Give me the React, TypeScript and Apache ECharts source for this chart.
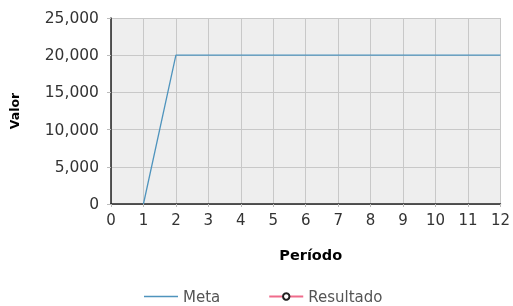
import React, { useEffect, useRef } from "react";
import * as echarts from "echarts";

const periods = [1, 2, 3, 4, 5, 6, 7, 8, 9, 10, 11, 12];
const metaValues = [0, 20000, 20000, 20000, 20000, 20000, 20000, 20000, 20000, 20000, 20000, 20000];
const resultadoValues: number[] = [];
const seriesNames = ["Meta", "Resultado"];

export default function App() {
  const ref = useRef<HTMLDivElement>(null);
  useEffect(() => {
    if (!ref.current) return;
    const chart = echarts.init(ref.current, undefined, { renderer: "svg" });
    const font = "DejaVu Sans";
    chart.setOption({
      animation: false,
      textStyle: { fontFamily: font },
      grid: {
        left: 111,
        right: 11,
        top: 18,
        bottom: 102,
        show: true,
        backgroundColor: "#eeeeee",
        borderWidth: 0,
      },
      legend: {
        top: 284,
        left: 139,
        itemGap: 48,
        itemWidth: 34,
        itemHeight: 8,
        textStyle: { fontFamily: font, fontSize: 15, color: "#555" },
        data: [
          {
            name: seriesNames[0],
            icon: "path://M0,0 L34,0 L34,1.3 L0,1.3 Z",
            itemStyle: { color: "#4f94bd" },
          },
          { name: seriesNames[1] },
        ],
      },
      xAxis: {
        type: "value",
        min: 0,
        max: 12,
        interval: 1,
        name: "Período",
        nameLocation: "middle",
        nameGap: 43,
        nameTextStyle: {
          fontFamily: font,
          fontSize: 14.5,
          fontWeight: "bold",
          color: "#000",
          padding: [0, 0, 0, 10],
        },
        axisLine: { show: true, onZero: false, lineStyle: { color: "#222", width: 1.5 } },
        axisTick: { show: true, length: 3, lineStyle: { color: "#bbb" } },
        axisLabel: { fontFamily: font, fontSize: 15, color: "#333", margin: 8 },
        splitLine: { show: true, lineStyle: { color: "#c8c8c8", width: 1 } },
      },
      yAxis: {
        type: "value",
        min: 0,
        max: 25000,
        interval: 5000,
        name: "Valor",
        nameLocation: "middle",
        nameGap: 90,
        nameRotate: 90,
        nameTextStyle: { fontFamily: font, fontSize: 12.5, fontWeight: "bold", color: "#000" },
        axisLine: { show: true, lineStyle: { color: "#222", width: 1.5 } },
        axisTick: { show: true, length: 4, lineStyle: { color: "#bbb" } },
        axisLabel: {
          fontFamily: font,
          fontSize: 15.5,
          color: "#333",
          margin: 12,
          formatter: (v: number) => v.toLocaleString("en-US"),
        },
        splitLine: { show: true, lineStyle: { color: "#c8c8c8", width: 1 } },
      },
      series: [
        {
          name: seriesNames[0],
          type: "line",
          data: periods.map((p, i) => [p, metaValues[i]]),
          symbol: "none",
          lineStyle: { color: "#4f94bd", width: 1.3 },
          itemStyle: { color: "#4f94bd" },
        },
        {
          name: seriesNames[1],
          type: "line",
          data: resultadoValues.map((v, i) => [periods[i], v]),
          symbol: "circle",
          symbolSize: 6,
          showSymbol: true,
          lineStyle: { color: "#f06c8c", width: 1.3 },
          itemStyle: { color: "#fff", borderColor: "#222", borderWidth: 1.3 },
        },
      ],
    });
    return () => chart.dispose();
  }, []);
  return (
    <div
      ref={ref}
      style={{ position: "fixed", left: 0, top: 0, width: 513, height: 306 }}
    />
  );
}
